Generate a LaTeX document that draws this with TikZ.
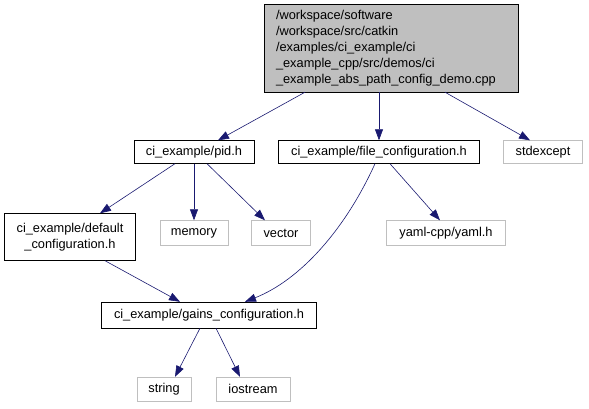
\documentclass[tikz,border=0pt]{standalone}
\usepackage{fontspec}
\setmainfont{Liberation Sans}
\usetikzlibrary{arrows.meta}
\definecolor{edgeblue}{RGB}{25,25,112}
\definecolor{boxgray}{RGB}{191,191,191}

\begin{document}
\begin{tikzpicture}[x=1pt, y=-1pt,
    every node/.style={draw, align=center, font=\fontsize{12.8}{16}\selectfont, inner sep=0pt},
    hdr/.style={draw=black, minimum height=23pt},
    sys/.style={draw=boxgray, minimum height=25pt},
    inc/.style={-{Triangle[length=11pt,width=8pt,fill=edgeblue]}, draw=edgeblue, semithick}]
    \useasboundingbox (0,0) rectangle (589,409);
    \node (demo) [fill=boxgray, align=left, text width=230pt, minimum width=254pt, minimum height=88pt] at (391,48) {/workspace/software\\/workspace/src/catkin\\/examples/ci\_example/ci\\\_example\_cpp/src/demos/ci\\\_example\_abs\_path\_config\_demo.cpp};
    \node (pid) [hdr, minimum width=120pt] at (194,152) {ci\_example/pid.h};
    \node (fileconf) [hdr, minimum width=201pt] at (379,152) {ci\_example/file\_configuration.h};
    \node (stdexcept) [sys, minimum width=79pt, minimum height=23pt] at (543,152) {stdexcept};
    \node (defconf) [hdr, minimum width=131pt, minimum height=47pt] at (70,237) {ci\_example/default\\\_configuration.h};
    \node (memory) [sys, minimum width=68pt] at (194,233) {memory};
    \node (vector) [sys, minimum width=59pt] at (281,233) {vector};
    \node (yaml) [sys, minimum width=119pt] at (446,233) {yaml-cpp/yaml.h};
    \node (gains) [hdr, minimum width=215pt, minimum height=26pt] at (209,315) {ci\_example/gains\_configuration.h};
    \node (string) [sys, minimum width=54pt, minimum height=24pt] at (164,389) {string};
    \node (iostream) [sys, minimum width=74pt, minimum height=24pt] at (253,389) {iostream};

    \draw[inc] (demo.south west -| 305,0) -- (pid.north -| 218,0);
    \draw[inc] (demo.south -| fileconf) -- (fileconf);
    \draw[inc] (demo.south -| 445,0) -- (stdexcept.north -| 530,0);
    \draw[inc] (pid.south -| 175,0) -- (defconf.north -| 100,0);
    \draw[inc] (pid) -- (memory);
    \draw[inc] (pid.south -| 207,0) -- (vector.north -| 265,0);
    \draw[inc] (fileconf.south -| 375,0) .. controls (345,230) and (300,280) .. (gains.north -| 245,0);
    \draw[inc] (fileconf.south -| 390,0) -- (yaml.north -| 440,0);
    \draw[inc] (defconf.south -| 105,0) -- (gains.north -| 180,0);
    \draw[inc] (gains.south -| 200,0) -- (string.north -| 175,0);
    \draw[inc] (gains.south -| 216,0) -- (iostream.north -| 240,0);
\end{tikzpicture}
\end{document}
